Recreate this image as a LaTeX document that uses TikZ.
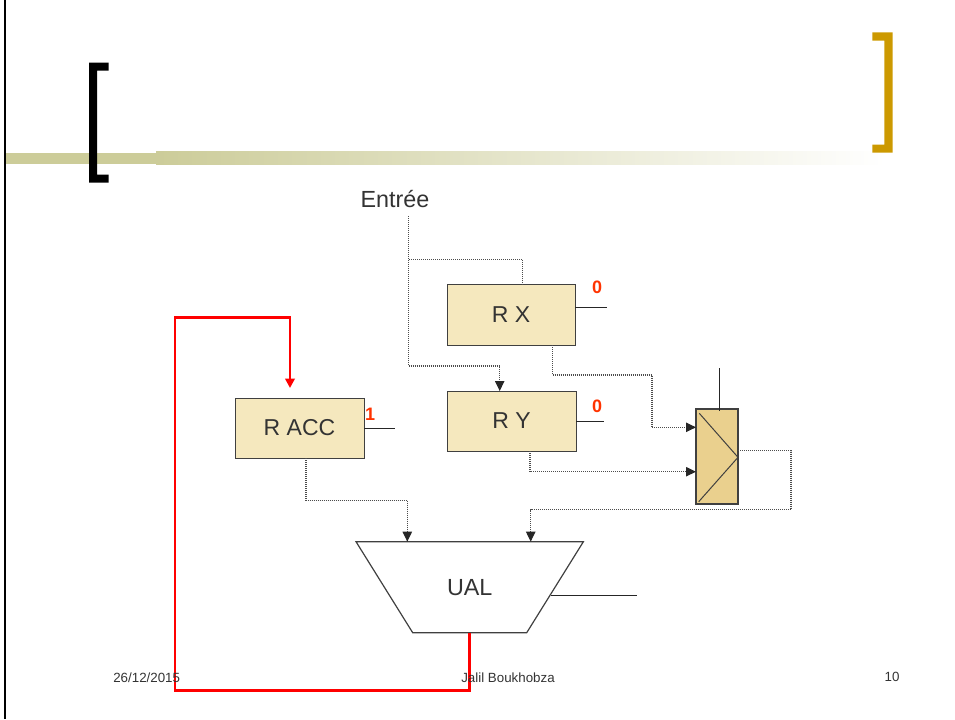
\documentclass[tikz,border=0pt]{standalone}
\usepackage{fontspec}
\setmainfont{Liberation Sans}
\usetikzlibrary{arrows.meta}
\definecolor{boxfill}{RGB}{245,232,190}
\definecolor{muxfill}{RGB}{234,208,142}
\definecolor{boxline}{RGB}{64,64,64}
\definecolor{txt}{RGB}{51,51,51}
\definecolor{bitred}{RGB}{255,51,0}
\definecolor{barcol}{RGB}{204,204,153}
\definecolor{gold}{RGB}{204,153,0}
\tikzset{
  regbox/.style={draw=boxline, line width=0.75pt, fill=boxfill, inner sep=0pt, outer sep=0pt, text=txt,
    font=\fontsize{17.25pt}{20pt}\selectfont},
  muxbox/.style={draw=boxline, line width=0.9pt, fill=muxfill, inner sep=0pt, outer sep=0pt},
  lbl/.style={inner sep=0pt, outer sep=0pt, text=txt, font=\fontsize{17.5pt}{20pt}\selectfont},
  bit/.style={inner sep=0pt, text=bitred, font=\bfseries\fontsize{13.5pt}{15pt}\selectfont},
  foot/.style={inner sep=0pt, text=txt, font=\fontsize{10pt}{12pt}\selectfont},
  dotline/.style={draw=black!70, line width=0.85pt, dash pattern=on 0.75pt off 0.75pt},
  darr/.style={-{Triangle[length=7.5pt,width=7pt,color=black!85]}},
  ctrl/.style={draw=black!85, line width=0.75pt},
  redline/.style={draw=red, line width=2.2pt, -{Triangle[length=7pt,width=7pt]}}
}
\begin{document}
\begin{tikzpicture}[x=0.75pt,y=-0.75pt]
\useasboundingbox (0,0) rectangle (955,719);
% title bar
\fill[barcol] (4,152.7) rectangle (157,164);
\shade[left color=barcol, right color=white, shading angle=90] (156,151.7) rectangle (885,164);
% slide frame (left edge)
\draw[line width=1.5pt] (5,0) -- (5,719);
% brackets
\fill[black] (89,62.7) -- (108.7,62.7) -- (108.7,70.7) -- (97,70.7) -- (97,174.7) -- (108.7,174.7)
  -- (108.7,182.7) -- (89,182.7) -- cycle;
\fill[gold] (892.7,32.3) -- (872.3,32.3) -- (872.3,40.7) -- (884.3,40.7) -- (884.3,144.7) -- (872.3,144.7)
  -- (872.3,152.7) -- (892.7,152.7) -- cycle;

% nodes
\node[lbl] (entree) at (395,199) {Entrée};
\coordinate (ein) at (408.5,216);
\node[regbox, minimum width=96pt, minimum height=45.75pt] (rx) at (511,314.5) {R X};
\node[regbox, minimum width=96.75pt, minimum height=45pt] (ry) at (511.5,421) {R Y};
\node[regbox, minimum width=96.75pt, minimum height=45pt] (racc) at (299.5,428) {R ACC};
\node[muxbox, minimum width=31.5pt, minimum height=71.25pt] (mux) at (717,456.5) {};
\draw[boxline, line width=0.75pt] (699.3,413.3) -- (mux.east |- 0,457.3) -- (698.7,501.7);
\node[lbl, minimum width=170.5pt, minimum height=68.25pt] (ual) at (469.7,587.2) {UAL};
\draw[boxline, line width=0.9pt] (ual.north west) -- (ual.north east) -- (526.7,632.7) -- (412.7,632.7) -- cycle;

% bit labels
\node[bit] (bx) at (597,287) {0};
\node[bit] (by) at (597,406) {0};
\node[bit] (bacc) at (370,414) {1};

% control lines
\coordinate (cx) at (606.7,307.3);
\coordinate (cy) at (603.7,421);
\coordinate (cacc) at (395,428.3);
\coordinate (cmux) at (719.3,368.3);
\coordinate (cual) at (636.7,595.7);
\draw[ctrl] (rx.east |- 0,307.3) -- (cx);
\draw[ctrl] (ry.east) -- (cy);
\draw[ctrl] (racc.east |- 0,428.3) -- (cacc);
\draw[ctrl] (cmux) -- (719.3,411);
\draw[ctrl] (550.5,595.7) -- (cual);

% data paths (dotted)
\draw[dotline] (ein) |- (522.7,259.3) -- (rx.north -| 522.7,0);
\draw[dotline, darr] (ein) |- (499.7,366) -- (ry.north -| 499.7,0);
\draw[dotline, darr] (rx.south -| 552.7,0) |- (652,375) |- (mux.west |- 0,427.3);
\draw[dotline, darr] (ry.south -| 530,0) |- (mux.west |- 0,471.7);
\draw[dotline, darr] (mux.east |- 0,450.5) -| (791,509.5) -| (ual.north -| 530.7,0);
\draw[dotline, darr] (racc.south -| 306,0) |- (407.3,500.5) -- (ual.north -| 407.3,0);

% feedback (red)
\draw[redline, shorten >=7.5pt] (ual.south -| 469.3,0) |- (175,690.7) |- (290,317.3) -- (racc.north -| 290,0);

% footer
\node[foot] (date) at (146.7,677.3) {26/12/2015};
\node[foot] (author) at (508,677.7) {Jalil Boukhobza};
\node[foot] (page) at (892,677) {10};
\end{tikzpicture}
\end{document}
